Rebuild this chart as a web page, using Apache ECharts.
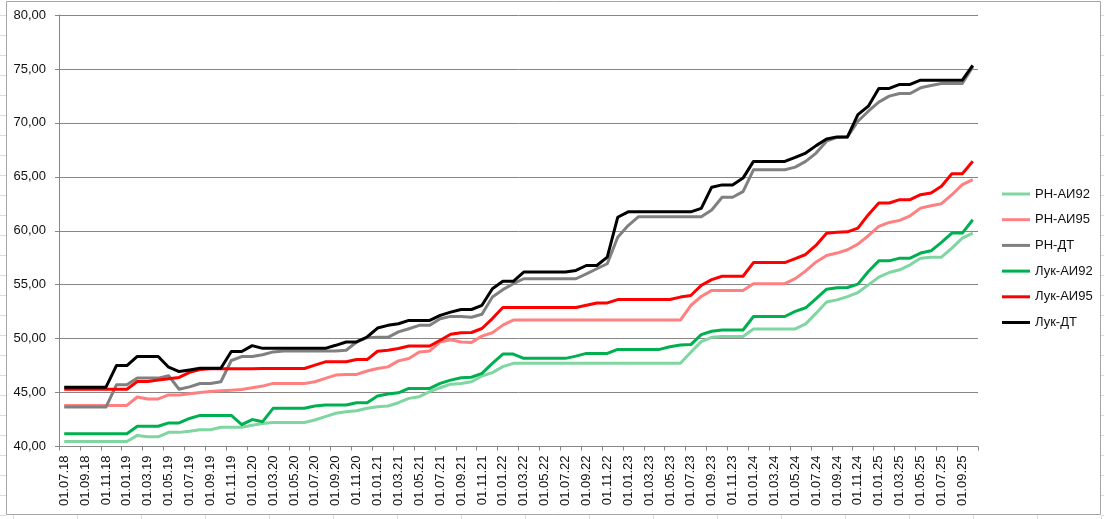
<!DOCTYPE html>
<html>
<head>
<meta charset="utf-8">
<script src="https://cdn.jsdelivr.net/npm/echarts@6/dist/echarts.min.js"></script>
<style>
html,body{margin:0;padding:0;background:#fff;}
#chart{width:1104px;height:519px;}
</style>
</head>
<body>
<div id="chart"></div>
<script>
var categories = [
 "01.07.18","01.08.18","01.09.18","01.10.18","01.11.18","01.12.18",
 "01.01.19","01.02.19","01.03.19","01.04.19","01.05.19","01.06.19","01.07.19","01.08.19","01.09.19","01.10.19","01.11.19","01.12.19",
 "01.01.20","01.02.20","01.03.20","01.04.20","01.05.20","01.06.20","01.07.20","01.08.20","01.09.20","01.10.20","01.11.20","01.12.20",
 "01.01.21","01.02.21","01.03.21","01.04.21","01.05.21","01.06.21","01.07.21","01.08.21","01.09.21","01.10.21","01.11.21","01.12.21",
 "01.01.22","01.02.22","01.03.22","01.04.22","01.05.22","01.06.22","01.07.22","01.08.22","01.09.22","01.10.22","01.11.22","01.12.22",
 "01.01.23","01.02.23","01.03.23","01.04.23","01.05.23","01.06.23","01.07.23","01.08.23","01.09.23","01.10.23","01.11.23","01.12.23",
 "01.01.24","01.02.24","01.03.24","01.04.24","01.05.24","01.06.24","01.07.24","01.08.24","01.09.24","01.10.24","01.11.24","01.12.24",
 "01.01.25","01.02.25","01.03.25","01.04.25","01.05.25","01.06.25","01.07.25","01.08.25","01.09.25","01.10.25"
];

var rnAi92 = [
 40.47,40.47,40.47,40.47,40.47,40.47,
 40.47,41.03,40.90,40.90,41.31,41.31,41.41,41.56,41.56,41.78,41.78,41.78,
 41.97,42.13,42.22,42.22,42.22,42.22,42.46,42.77,43.08,43.23,43.32,43.54,
 43.69,43.75,44.06,44.46,44.62,45.08,45.45,45.78,45.85,46.00,46.54,46.85,
 47.40,47.71,47.71,47.71,47.71,47.71,47.71,47.71,47.71,47.71,47.71,47.71,
 47.71,47.71,47.71,47.71,47.71,47.71,48.73,49.72,50.12,50.19,50.19,50.19,
 50.90,50.90,50.90,50.90,50.90,51.37,52.36,53.40,53.59,53.90,54.27,54.98,
 55.70,56.13,56.38,56.84,57.46,57.55,57.55,58.39,59.32,59.78
];
var rnAi95 = [
 43.81,43.81,43.81,43.81,43.81,43.81,
 43.81,44.59,44.41,44.41,44.78,44.78,44.90,45.00,45.10,45.16,45.22,45.28,
 45.45,45.60,45.85,45.85,45.85,45.85,46.00,46.31,46.62,46.68,46.68,47.00,
 47.23,47.38,47.94,48.15,48.77,48.86,49.69,49.90,49.69,49.65,50.23,50.54,
 51.25,51.72,51.72,51.72,51.72,51.72,51.72,51.72,51.72,51.72,51.72,51.72,
 51.72,51.72,51.72,51.72,51.72,51.72,53.07,53.91,54.47,54.47,54.47,54.47,
 55.09,55.09,55.09,55.09,55.56,56.27,57.11,57.70,57.93,58.24,58.76,59.54,
 60.40,60.77,60.96,61.39,62.10,62.32,62.51,63.34,64.27,64.74
];
var rnDt = [
 43.66,43.66,43.66,43.66,43.66,45.72,
 45.72,46.34,46.34,46.34,46.56,45.31,45.53,45.84,45.84,46.00,47.97,48.34,
 48.34,48.50,48.77,48.86,48.86,48.86,48.86,48.86,48.86,48.92,49.69,50.09,
 50.12,50.12,50.62,50.92,51.23,51.23,51.85,52.06,52.06,51.98,52.26,53.86,
 54.54,55.09,55.55,55.55,55.55,55.55,55.55,55.55,56.00,56.48,56.94,59.40,
 60.48,61.30,61.30,61.30,61.30,61.30,61.30,61.30,61.93,63.10,63.10,63.63,
 65.65,65.65,65.65,65.65,65.90,66.43,67.20,68.30,68.65,68.70,70.15,71.08,
 71.92,72.48,72.72,72.72,73.25,73.47,73.65,73.65,73.65,75.20
];
var lukAi92 = [
 41.19,41.19,41.19,41.19,41.19,41.19,
 41.19,41.88,41.88,41.88,42.19,42.19,42.60,42.88,42.88,42.88,42.88,42.03,
 42.50,42.30,43.54,43.54,43.54,43.54,43.75,43.85,43.85,43.85,44.06,44.06,
 44.68,44.86,44.98,45.38,45.38,45.38,45.85,46.15,46.37,46.42,46.78,47.71,
 48.57,48.57,48.17,48.17,48.17,48.17,48.17,48.38,48.63,48.63,48.63,49.00,
 49.00,49.00,49.00,49.00,49.25,49.40,49.45,50.37,50.68,50.80,50.80,50.80,
 52.05,52.05,52.05,52.05,52.52,52.86,53.70,54.58,54.72,54.74,55.05,56.22,
 57.21,57.21,57.46,57.46,57.93,58.14,58.92,59.78,59.78,61.02
];
var lukAi95 = [
 45.31,45.31,45.31,45.31,45.31,45.31,
 45.31,46.03,46.03,46.16,46.28,46.40,46.88,47.13,47.20,47.20,47.20,47.20,
 47.20,47.22,47.23,47.23,47.23,47.23,47.54,47.85,47.85,47.85,48.06,48.06,
 48.83,48.92,49.08,49.32,49.32,49.32,49.85,50.40,50.55,50.57,50.94,51.86,
 52.88,52.88,52.88,52.88,52.88,52.88,52.88,52.88,53.09,53.31,53.31,53.62,
 53.62,53.62,53.62,53.62,53.62,53.85,54.00,54.94,55.47,55.78,55.78,55.78,
 57.05,57.05,57.05,57.05,57.42,57.80,58.66,59.77,59.85,59.90,60.25,61.49,
 62.57,62.57,62.88,62.88,63.34,63.50,64.12,65.29,65.29,66.44
];
var lukDt = [
 45.50,45.50,45.50,45.50,45.50,47.50,
 47.50,48.35,48.35,48.35,47.35,46.95,47.10,47.25,47.25,47.25,48.80,48.80,
 49.35,49.10,49.10,49.10,49.10,49.10,49.10,49.10,49.38,49.69,49.69,50.15,
 50.98,51.23,51.38,51.69,51.69,51.69,52.15,52.46,52.70,52.70,53.09,54.63,
 55.31,55.31,56.17,56.17,56.17,56.17,56.17,56.32,56.78,56.78,57.55,61.25,
 61.75,61.75,61.75,61.75,61.75,61.75,61.75,62.08,64.04,64.25,64.25,64.88,
 66.43,66.43,66.43,66.43,66.80,67.20,67.89,68.50,68.70,68.70,70.77,71.55,
 73.19,73.19,73.56,73.56,73.96,73.96,73.96,73.96,73.96,75.33
];

var seriesNames = ["РН-АИ92","РН-АИ95","РН-ДТ","Лук-АИ92","Лук-АИ95","Лук-ДТ"];
var seriesData = [rnAi92, rnAi95, rnDt, lukAi92, lukAi95, lukDt];
var seriesColors = ["#7fd6a0","#ff8080","#808080","#00b050","#ff0000","#000000"];
var yTicks = {min: 40, max: 80, step: 5};

var FONT = "'Liberation Sans', Arial, sans-serif";
var AXIS = "#868686";

var deco = [];
deco.push({type:'rect', shape:{x:6.5,y:1.5,width:1094,height:513}, style:{fill:null, stroke:'#a6a6a6', lineWidth:1}, silent:true});
for (var yy = 15; yy < 519; yy += 20) {
  deco.push({type:'line', shape:{x1:0,y1:yy+0.5,x2:6,y2:yy+0.5}, style:{stroke:'#dcdcdc', lineWidth:1}, silent:true});
  deco.push({type:'line', shape:{x1:1101,y1:yy+0.5,x2:1104,y2:yy+0.5}, style:{stroke:'#dcdcdc', lineWidth:1}, silent:true});
}
for (var xx = 13; xx < 1104; xx += 64) {
  deco.push({type:'line', shape:{x1:xx+0.5,y1:515,x2:xx+0.5,y2:519}, style:{stroke:'#dcdcdc', lineWidth:1}, silent:true});
}

var chart = echarts.init(document.getElementById('chart'), null, {renderer:'canvas'});
chart.setOption({
  animation: false,
  backgroundColor: '#ffffff',
  grid: {left: 59, right: 126, top: 15, bottom: 72.5, containLabel: false},
  legend: {
    orient: 'vertical',
    left: 997,
    top: 181,
    itemWidth: 28,
    itemHeight: 3,
    itemGap: 9.7,
    icon: 'rect',
    textStyle: {fontFamily: FONT, fontSize: 13, color: '#111', lineHeight: 16},
    data: seriesNames
  },
  xAxis: {
    type: 'category',
    data: categories,
    boundaryGap: true,
    axisLine: {show: true, lineStyle: {color: AXIS, width: 1}},
    axisTick: {show: true, interval: 1, length: 4, lineStyle: {color: AXIS}},
    axisLabel: {interval: 1, rotate: 90, margin: 9, fontFamily: FONT, fontSize: 13, color: '#111'},
    splitLine: {show: false}
  },
  yAxis: {
    type: 'value',
    min: yTicks.min,
    max: yTicks.max,
    interval: yTicks.step,
    axisLine: {show: true, lineStyle: {color: AXIS, width: 1}},
    axisTick: {show: true, length: 4, lineStyle: {color: AXIS}},
    axisLabel: {margin: 13, fontFamily: FONT, fontSize: 13, color: '#111',
      formatter: function (v) { return v.toFixed(2).replace('.', ','); }},
    splitLine: {show: true, lineStyle: {color: AXIS, width: 1}}
  },
  series: seriesNames.map(function (name, k) {
    return {
      name: name,
      type: 'line',
      data: seriesData[k],
      symbol: 'none',
      smooth: false,
      color: seriesColors[k],
      lineStyle: {width: 3, color: seriesColors[k], join: 'round'},
      z: 2 + k
    };
  }),
  graphic: deco
});
</script>
</body>
</html>
